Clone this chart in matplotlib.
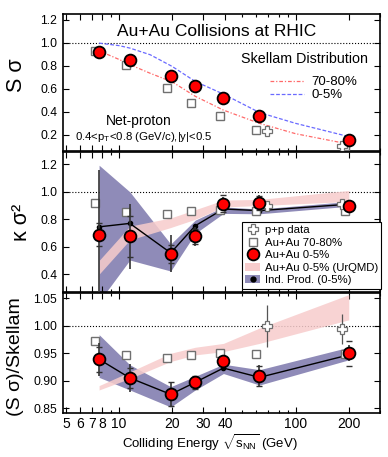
import matplotlib
matplotlib.use("Agg")
import matplotlib.pyplot as plt
from matplotlib.lines import Line2D
from matplotlib.patches import Patch
from matplotlib.ticker import NullFormatter, FormatStrFormatter
import numpy as np

plt.rcParams["font.family"] = ["Liberation Sans", "DejaVu Sans"]
plt.rcParams["mathtext.fontset"] = "custom"
plt.rcParams["mathtext.rm"] = "Liberation Sans"
plt.rcParams["mathtext.it"] = "Liberation Sans:italic"

# ===== データ =====
energy = [7.7, 11.5, 19.6, 27, 39, 62.4, 200]
pp_energy = [62.4, 200]

# S sigma
sig_c0 = [0.924, 0.85, 0.71, 0.626, 0.516, 0.363, 0.154]
sig_c7080 = [0.93, 0.806, 0.603, 0.478, 0.36, 0.246, 0.107]
sig_pp = [0.235, 0.10]

skellam_energy = [7.7, 10, 11.5, 15, 20, 27, 39, 62.4, 100, 200]
skellam_7080 = [0.93, 0.855, 0.81, 0.735, 0.66, 0.535, 0.415, 0.30, 0.21, 0.12]
skellam_0005 = [0.997, 0.975, 0.954, 0.896, 0.794, 0.664, 0.554, 0.394, 0.30, 0.185]

# kappa sigma^2
kap_c0 = [0.687, 0.675, 0.549, 0.677, 0.915, 0.92, 0.895]
kap_stat = [0.47, 0.24, 0.136, 0.07, 0.045, 0.055, 0.02]
kap_sys = [0.085, 0.15, 0.065, 0.055, 0.06, 0.05, 0.02]
kap_c7080 = [0.92, 0.852, 0.837, 0.857, 0.869, 0.864, 0.86]
kap_pp = [0.90, 0.913]
kap_ind = [0.745, 0.77, 0.555, 0.753, 0.875, 0.863, 0.91]
kap_ind_lo = [0.2, 0.503, 0.423, 0.697, 0.843, 0.84, 0.895]
kap_ind_hi = [1.194, 1.0, 0.62, 0.794, 0.89, 0.875, 0.93]
kap_urqmd_lo = [0.40, 0.65, 0.74, 0.80, 0.89, 0.90, 0.93]
kap_urqmd_hi = [0.50, 0.75, 0.81, 0.87, 0.94, 0.945, 1.01]

# (S sigma)/Skellam
rat_c0 = [0.939, 0.905, 0.875, 0.897, 0.936, 0.909, 0.95]
rat_stat = [0.03, 0.025, 0.023, 0.012, 0.01, 0.02, 0.015]
rat_sys = [0.023, 0.018, 0.022, 0.012, 0.008, 0.018, 0.023]
rat_c7080 = [0.973, 0.946, 0.941, 0.946, 0.95, 0.949, 0.948]
rat_pp = [1.0, 0.994]
rat_pp_err = [0.038, 0.028]
rat_ind = [0.939, 0.905, 0.875, 0.897, 0.923, 0.906, 0.947]
rat_ind_lo = [0.906, 0.883, 0.852, 0.883, 0.913, 0.892, 0.938]
rat_ind_hi = [0.984, 0.929, 0.889, 0.908, 0.93, 0.92, 0.961]
rat_urqmd_lo = [0.883, 0.904, 0.935, 0.947, 0.953, 0.968, 1.011]
rat_urqmd_hi = [0.891, 0.916, 0.95, 0.961, 0.968, 0.996, 1.057]

xticks = [5, 6, 7, 8, 10, 20, 30, 40, 100, 200]

# ===== 体裁 =====
RED = "#ff0000"
GREY = "#707070"
BAND_BLUE = "#8f8bb8"
BAND_PINK = "#f7cccc"

e = np.array(energy)
x_sq = e * 0.95            # 少し左にずらす
x_pp = np.array(pp_energy) * np.array([1.1, 0.91])

fig = plt.figure(figsize=(3.88, 4.57), dpi=100)
left, width = 0.162, 0.817
ax1 = fig.add_axes([left, 0.6696, width, 0.2998])
ax2 = fig.add_axes([left, 0.361, width, 0.3063])
ax3 = fig.add_axes([left, 0.0963, width, 0.2626])


def style_axis(ax):
    ax.set_xscale("log")
    ax.set_xlim(4.8, 300)
    ax.set_xticks(xticks)
    ax.set_xticks([9, 50, 60, 70, 80, 90, 300], minor=True)
    ax.xaxis.set_minor_formatter(NullFormatter())
    ax.tick_params(which="both", direction="in", top=True, right=True)
    ax.tick_params(which="major", length=4, width=0.8)
    ax.tick_params(which="minor", length=2.5, width=0.8)
    ax.tick_params(axis="y", labelsize=8.7, pad=4)
    ax.tick_params(axis="x", labelsize=10, pad=3)
    for s in ax.spines.values():
        s.set_linewidth(1.2)
    ax.axhline(1.0, color="black", ls=":", lw=0.8, zorder=1)


for ax in (ax1, ax2, ax3):
    style_axis(ax)
ax1.set_xticklabels([])
ax2.set_xticklabels([])
ax3.set_xticklabels([str(t) for t in xticks])

# ----- panel 1 -----
ax1.set_ylim(0.06, 1.25)
ax1.set_yticks([0.2, 0.4, 0.6, 0.8, 1.0, 1.2])
ax1.yaxis.set_major_formatter(FormatStrFormatter("%.1f"))
l1, = ax1.plot(skellam_energy, skellam_7080, color="#ff6a6a", ls=(0, (3, 1.5, 1, 1.5)), lw=0.9, zorder=2)
l2, = ax1.plot(skellam_energy, skellam_0005, color="#6a6aff", ls=(0, (3, 1.5)), lw=0.9, zorder=2)
ax1.plot(x_sq, sig_c7080, "s", ms=6, mfc="white", mec=GREY, mew=1.0, zorder=3)
ax1.plot(x_pp, sig_pp, "P", ms=7, mfc="white", mec=GREY, mew=0.9, zorder=3)
ax1.plot(e, sig_c0, "o", ms=8.5, mfc=RED, mec="black", mew=1.3, zorder=4)
leg1 = ax1.legend([l1, l2], ["70-80%", "0-5%"], loc="center right",
                  bbox_to_anchor=(0.93, 0.455), frameon=False,
                  fontsize=9.5, handlelength=2.6, handletextpad=0.6,
                  labelspacing=0.05, borderpad=0, borderaxespad=0)
ax1.text(0.962, 0.672, "Skellam Distribution", transform=ax1.transAxes,
         ha="right", va="center", fontsize=10.3)
ax1.text(0.486, 0.871, "Au+Au Collisions at RHIC", transform=ax1.transAxes,
         ha="center", va="center", fontsize=12.5)
ax1.text(0.24, 0.221, "Net-proton", transform=ax1.transAxes,
         ha="center", va="center", fontsize=10)
ax1.text(0.256, 0.102, r"0.4<p$_\mathrm{T}$<0.8 (GeV/c),|y|<0.5", transform=ax1.transAxes,
         ha="center", va="center", fontsize=8.2)

# ----- panel 2 -----
ax2.set_ylim(0.27, 1.29)
ax2.set_yticks([0.4, 0.6, 0.8, 1.0, 1.2])
ax2.yaxis.set_major_formatter(FormatStrFormatter("%.1f"))
ax2.fill_between(e, kap_ind_lo, kap_ind_hi, color=BAND_BLUE, lw=0, zorder=1.5)
ax2.fill_between(e, kap_urqmd_lo, kap_urqmd_hi, color=BAND_PINK, lw=0, alpha=0.85, zorder=1.6)
ax2.plot(e, kap_ind, "-o", color="black", ms=3, lw=1.0, zorder=2.5)
ax2.plot(x_sq, kap_c7080, "s", ms=6, mfc="white", mec=GREY, mew=1.0, zorder=3)
ax2.plot(x_pp, kap_pp, "P", ms=7, mfc="white", mec=GREY, mew=0.9, zorder=3)
ax2.errorbar(e, kap_c0, yerr=kap_stat, fmt="none", ecolor="#333333", elinewidth=1.2, zorder=3.5)
ax2.errorbar(e, kap_c0, yerr=kap_sys, fmt="none", ecolor="#333333", elinewidth=0,
             capsize=2.5, capthick=1.0, zorder=3.5)
ax2.plot(e, kap_c0, "o", ms=8.5, mfc=RED, mec="black", mew=1.3, zorder=4)

handles = [
    Line2D([], [], marker="P", ls="none", ms=7, mfc="white", mec=GREY, mew=0.9),
    Line2D([], [], marker="s", ls="none", ms=6, mfc="white", mec=GREY, mew=1.0),
    Line2D([], [], marker="o", ls="none", ms=8.5, mfc=RED, mec="black", mew=1.3),
    Patch(facecolor=BAND_PINK, edgecolor="none"),
    (Patch(facecolor=BAND_BLUE, edgecolor="none"),
     Line2D([], [], marker="o", ls="none", ms=3.5, color="black")),
]
labels = ["p+p data", "Au+Au 70-80%", "Au+Au 0-5%", "Au+Au 0-5% (UrQMD)", "Ind. Prod. (0-5%)"]
leg2 = ax2.legend(handles, labels, loc="lower left", bbox_to_anchor=(0.565, 0.025),
                  fontsize=8.2, handlelength=1.3, handletextpad=0.4, labelspacing=0.22,
                  borderpad=0.3, borderaxespad=0, fancybox=False, framealpha=1,
                  edgecolor="black")
leg2.get_frame().set_linewidth(0.8)

# ----- panel 3 -----
ax3.set_ylim(0.841, 1.06)
ax3.set_yticks([0.85, 0.90, 0.95, 1.00, 1.05])
ax3.yaxis.set_major_formatter(FormatStrFormatter("%.2f"))
ax3.fill_between(e, rat_ind_lo, rat_ind_hi, color=BAND_BLUE, lw=0, zorder=1.5)
ax3.fill_between(e, rat_urqmd_lo, rat_urqmd_hi, color=BAND_PINK, lw=0, alpha=0.85, zorder=1.6)
ax3.plot(e, rat_ind, "-o", color="black", ms=3, lw=1.0, zorder=2.5)
ax3.plot(x_sq, rat_c7080, "s", ms=6, mfc="white", mec=GREY, mew=1.0, zorder=3)
ax3.errorbar(x_pp, rat_pp, yerr=rat_pp_err, fmt="none", ecolor="#555555", elinewidth=0.9, zorder=3)
ax3.plot(x_pp, rat_pp, "P", ms=7, mfc="white", mec=GREY, mew=0.9, zorder=3.2)
ax3.errorbar(e, rat_c0, yerr=rat_stat, fmt="none", ecolor="#333333", elinewidth=1.2, zorder=3.5)
ax3.errorbar(e, rat_c0, yerr=rat_sys, fmt="none", ecolor="#333333", elinewidth=0,
             capsize=2.5, capthick=1.0, zorder=3.5)
ax3.plot(e, rat_c0, "o", ms=8.5, mfc=RED, mec="black", mew=1.3, zorder=4)

# ----- ラベル -----
fig.text(0.042, 0.836, "S σ", rotation=90, ha="center", va="center", fontsize=15.5)
fig.text(0.056, 0.514, "κ σ²", rotation=90, ha="center", va="center", fontsize=15.5)
fig.text(0.039, 0.219, "(S σ)/Skellam", rotation=90, ha="center", va="center", fontsize=14)
fig.text(0.541, 0.031, r"Colliding Energy $\sqrt{\mathrm{s}_{\mathrm{NN}}}$ (GeV)",
         ha="center", va="center", fontsize=9.5)

plt.savefig("out.png", dpi=100)
plt.close()
